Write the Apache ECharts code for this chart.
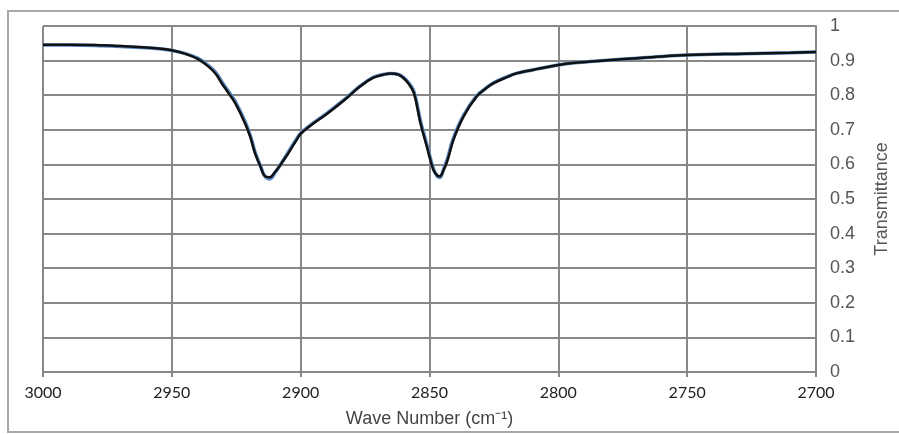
<!DOCTYPE html>
<html>
<head>
<meta charset="utf-8">
<script src="https://cdn.jsdelivr.net/npm/echarts@6/dist/echarts.min.js"></script>
<style>html,body{margin:0;padding:0;background:#fff;}#c{width:899px;height:434px;}</style>
</head>
<body>
<div id="c"></div>
<script>
// Wave numbers (cm^-1)
var waveNumbers = [3000, 2990, 2980, 2970, 2960, 2955, 2950, 2945, 2940, 2936, 2933, 2930.6, 2928, 2925.4, 2921.6, 2919.5, 2917.7, 2915.5, 2913.9, 2912, 2910, 2908, 2905, 2902, 2900, 2896, 2890, 2883, 2877, 2872, 2868, 2865, 2862, 2860, 2858, 2856, 2853.5, 2851, 2848.5, 2847, 2846, 2844.5, 2843, 2840.7, 2836.8, 2831.7, 2828, 2825.3, 2820, 2816.3, 2810, 2807.3, 2797, 2786, 2773, 2760, 2750, 2728, 2710, 2700];
// Transmittance, black trace
var blackT = [0.946, 0.946, 0.945, 0.942, 0.938, 0.935, 0.930, 0.920, 0.905, 0.884, 0.862, 0.834, 0.806, 0.777, 0.719, 0.678, 0.632, 0.592, 0.566, 0.563, 0.578, 0.597, 0.630, 0.666, 0.688, 0.713, 0.745, 0.786, 0.825, 0.850, 0.859, 0.863, 0.859, 0.849, 0.832, 0.805, 0.719, 0.651, 0.584, 0.568, 0.566, 0.584, 0.612, 0.671, 0.738, 0.796, 0.820, 0.834, 0.852, 0.863, 0.873, 0.877, 0.891, 0.898, 0.905, 0.912, 0.916, 0.920, 0.923, 0.925];
// Transmittance, blue trace
var blueT = [0.945, 0.945, 0.944, 0.941, 0.937, 0.934, 0.929, 0.921, 0.907, 0.887, 0.866, 0.839, 0.811, 0.782, 0.724, 0.683, 0.636, 0.594, 0.566, 0.558, 0.575, 0.598, 0.633, 0.669, 0.690, 0.715, 0.747, 0.788, 0.826, 0.851, 0.860, 0.863, 0.860, 0.851, 0.835, 0.810, 0.726, 0.656, 0.588, 0.566, 0.562, 0.588, 0.618, 0.677, 0.742, 0.798, 0.821, 0.835, 0.853, 0.863, 0.873, 0.877, 0.891, 0.898, 0.905, 0.912, 0.916, 0.920, 0.923, 0.925];
var yTicks = [0, 0.1, 0.2, 0.3, 0.4, 0.5, 0.6, 0.7, 0.8, 0.9, 1];

function pairs(xs, ys) { return xs.map(function (x, i) { return [x, ys[i]]; }); }

var chart = echarts.init(document.getElementById('c'), null, {renderer: 'canvas'});
chart.setOption({
  animation: false,
  backgroundColor: '#ffffff',
  grid: {left: 43, right: 77, top: 26, bottom: 62, containLabel: false},
  graphic: [{
    type: 'rect', silent: true, z: -1,
    shape: {x: 8, y: 11, width: 930, height: 421},
    style: {fill: 'none', stroke: '#a8a8a8', lineWidth: 2}
  }],
  xAxis: {
    type: 'value', min: 2700, max: 3000, interval: 50, inverse: true,
    name: 'Wave Number (cm\u207B\u00B9)', nameLocation: 'middle', nameGap: 38,
    nameTextStyle: {fontFamily: 'Liberation Sans', fontSize: 18, color: '#444'},
    axisLine: {show: true, lineStyle: {color: '#888', width: 2}},
    axisTick: {show: true, length: 5, lineStyle: {color: '#888', width: 2}},
    axisLabel: {fontFamily: 'Lato', fontSize: 16, color: '#222', margin: 13,
      formatter: function (v) { return String(Math.round(v)); }},
    splitLine: {show: true, lineStyle: {color: '#888', width: 2}}
  },
  yAxis: {
    type: 'value', position: 'right', min: 0, max: 1, interval: 0.1,
    name: 'Transmittance', nameLocation: 'middle', nameRotate: 90, nameGap: 57,
    nameTextStyle: {fontFamily: 'Liberation Sans', fontSize: 18, color: '#555'},
    axisLine: {show: true, lineStyle: {color: '#888', width: 2}},
    axisTick: {show: false},
    axisLabel: {fontFamily: 'Liberation Sans', fontSize: 18, color: '#555', margin: 14,
      formatter: function (v) { var m = yTicks.filter(function (t) { return Math.abs(t - v) < 1e-6; }); return m.length ? String(m[0]) : ''; }},
    splitLine: {show: true, lineStyle: {color: '#888', width: 2}}
  },
  series: [
    {type: 'line', data: pairs(waveNumbers, blueT), smooth: 0.4, symbol: 'none',
     lineStyle: {color: '#5a8cc6', width: 3.5}, z: 2},
    {type: 'line', data: pairs(waveNumbers, blackT), smooth: 0.4, symbol: 'none',
     lineStyle: {color: '#111111', width: 2.5}, z: 3}
  ]
});
</script>
</body>
</html>
